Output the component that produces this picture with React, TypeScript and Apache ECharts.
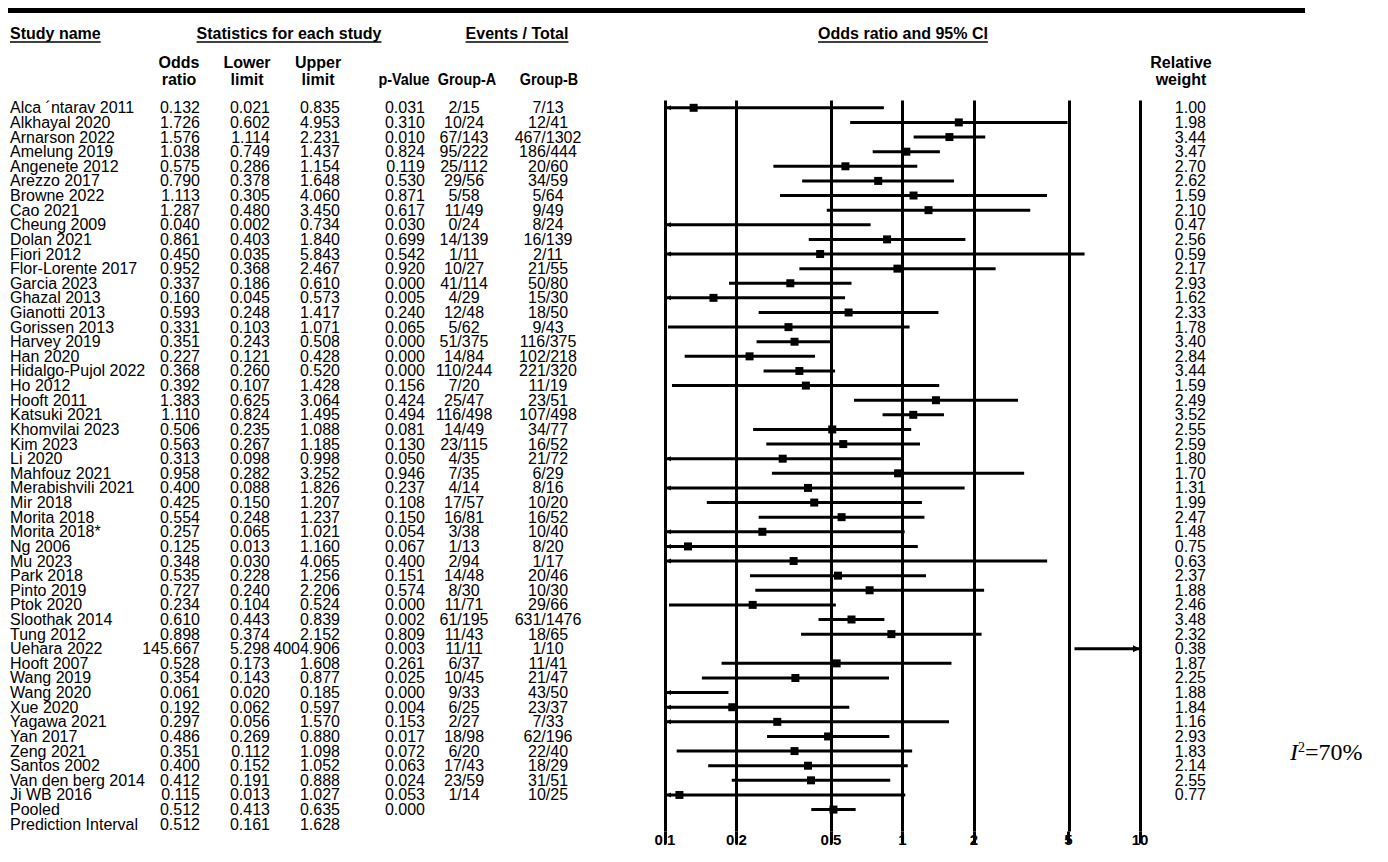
import React, { useEffect, useRef } from "react";
import * as echarts from "echarts";

const studyNames = [
  "Alca ´ntarav 2011", "Alkhayal 2020", "Arnarson 2022", "Amelung 2019", "Angenete 2012",
  "Arezzo 2017", "Browne 2022", "Cao 2021", "Cheung 2009", "Dolan 2021",
  "Fiori 2012", "Flor-Lorente 2017", "Garcia 2023", "Ghazal 2013", "Gianotti 2013",
  "Gorissen 2013", "Harvey 2019", "Han 2020", "Hidalgo-Pujol 2022", "Ho 2012",
  "Hooft 2011", "Katsuki 2021", "Khomvilai 2023", "Kim 2023", "Li 2020",
  "Mahfouz 2021", "Merabishvili 2021", "Mir 2018", "Morita 2018", "Morita 2018*",
  "Ng 2006", "Mu 2023", "Park 2018", "Pinto 2019", "Ptok 2020",
  "Sloothak 2014", "Tung 2012", "Uehara 2022", "Hooft 2007", "Wang 2019",
  "Wang 2020", "Xue 2020", "Yagawa 2021", "Yan 2017", "Zeng 2021",
  "Santos 2002", "Van den berg 2014", "Ji WB 2016", "Pooled", "Prediction Interval",
];

const oddsRatios = [
  0.132, 1.726, 1.576, 1.038, 0.575, 0.79, 1.113, 1.287, 0.04, 0.861,
  0.45, 0.952, 0.337, 0.16, 0.593, 0.331, 0.351, 0.227, 0.368, 0.392,
  1.383, 1.11, 0.506, 0.563, 0.313, 0.958, 0.4, 0.425, 0.554, 0.257,
  0.125, 0.348, 0.535, 0.727, 0.234, 0.61, 0.898, 145.667, 0.528, 0.354,
  0.061, 0.192, 0.297, 0.486, 0.351, 0.4, 0.412, 0.115, 0.512, 0.512,
];

const lowerLimits = [
  0.021, 0.602, 1.114, 0.749, 0.286, 0.378, 0.305, 0.48, 0.002, 0.403,
  0.035, 0.368, 0.186, 0.045, 0.248, 0.103, 0.243, 0.121, 0.26, 0.107,
  0.625, 0.824, 0.235, 0.267, 0.098, 0.282, 0.088, 0.15, 0.248, 0.065,
  0.013, 0.03, 0.228, 0.24, 0.104, 0.443, 0.374, 5.298, 0.173, 0.143,
  0.02, 0.062, 0.056, 0.269, 0.112, 0.152, 0.191, 0.013, 0.413, 0.161,
];

const upperLimits = [
  0.835, 4.953, 2.231, 1.437, 1.154, 1.648, 4.06, 3.45, 0.734, 1.84,
  5.843, 2.467, 0.61, 0.573, 1.417, 1.071, 0.508, 0.428, 0.52, 1.428,
  3.064, 1.495, 1.088, 1.185, 0.998, 3.252, 1.826, 1.207, 1.237, 1.021,
  1.16, 4.065, 1.256, 2.206, 0.524, 0.839, 2.152, 4004.906, 1.608, 0.877,
  0.185, 0.597, 1.57, 0.88, 1.098, 1.052, 0.888, 1.027, 0.635, 1.628,
];

const pValues = [
  "0.031", "0.310", "0.010", "0.824", "0.119", "0.530", "0.871", "0.617", "0.030", "0.699",
  "0.542", "0.920", "0.000", "0.005", "0.240", "0.065", "0.000", "0.000", "0.000", "0.156",
  "0.424", "0.494", "0.081", "0.130", "0.050", "0.946", "0.237", "0.108", "0.150", "0.054",
  "0.067", "0.400", "0.151", "0.574", "0.000", "0.002", "0.809", "0.003", "0.261", "0.025",
  "0.000", "0.004", "0.153", "0.017", "0.072", "0.063", "0.024", "0.053", "0.000", "",
];

const groupA = [
  "2/15", "10/24", "67/143", "95/222", "25/112", "29/56", "5/58", "11/49", "0/24", "14/139",
  "1/11", "10/27", "41/114", "4/29", "12/48", "5/62", "51/375", "14/84", "110/244", "7/20",
  "25/47", "116/498", "14/49", "23/115", "4/35", "7/35", "4/14", "17/57", "16/81", "3/38",
  "1/13", "2/94", "14/48", "8/30", "11/71", "61/195", "11/43", "11/11", "6/37", "10/45",
  "9/33", "6/25", "2/27", "18/98", "6/20", "17/43", "23/59", "1/14", "", "",
];

const groupB = [
  "7/13", "12/41", "467/1302", "186/444", "20/60", "34/59", "5/64", "9/49", "8/24", "16/139",
  "2/11", "21/55", "50/80", "15/30", "18/50", "9/43", "116/375", "102/218", "221/320", "11/19",
  "23/51", "107/498", "34/77", "16/52", "21/72", "6/29", "8/16", "10/20", "16/52", "10/40",
  "8/20", "1/17", "20/46", "10/30", "29/66", "631/1476", "18/65", "1/10", "11/41", "21/47",
  "43/50", "23/37", "7/33", "62/196", "22/40", "18/29", "31/51", "10/25", "", "",
];

const relativeWeights = [
  "1.00", "1.98", "3.44", "3.47", "2.70", "2.62", "1.59", "2.10", "0.47", "2.56",
  "0.59", "2.17", "2.93", "1.62", "2.33", "1.78", "3.40", "2.84", "3.44", "1.59",
  "2.49", "3.52", "2.55", "2.59", "1.80", "1.70", "1.31", "1.99", "2.47", "1.48",
  "0.75", "0.63", "2.37", "1.88", "2.46", "3.48", "2.32", "0.38", "1.87", "2.25",
  "1.88", "1.84", "1.16", "2.93", "1.83", "2.14", "2.55", "0.77",
];

const tickValues = [0.1, 0.2, 0.5, 1, 2, 5, 10];
const tickLabels = ["0.1", "0.2", "0.5", "1", "2", "5", "10"];
const heterogeneity = "70%";

const FONT = "'Liberation Sans', Arial, sans-serif";
const ROW_FONT_SIZE = 16;

function measure(text: string, font: string): number {
  const c = document.createElement("canvas").getContext("2d");
  if (!c) return text.length * 9;
  c.font = font;
  return c.measureText(text).width;
}

export default function App() {
  const ref = useRef<HTMLDivElement>(null);

  useEffect(() => {
    if (!ref.current) return;
    const chart = echarts.init(ref.current, null, { renderer: "svg" });
    const cats = studyNames.map((_, i) => String(i));
    const lg = (v: number) => Math.log10(v);
    const X_MIN = lg(tickValues[0]);
    const X_MAX = lg(tickValues[tickValues.length - 1]);
    const tickPos = tickValues.map(lg);
    const plotRows = relativeWeights.length + 1; // studies + pooled

    const ciData: number[][] = [];
    for (let i = 0; i < plotRows; i++) {
      ciData.push([i, lg(lowerLimits[i]), lg(oddsRatios[i]), lg(upperLimits[i])]);
    }

    const colAxis = (
      offset: number,
      formatter: (i: number) => string,
      align: string,
      position: string = "left"
    ) => ({
      type: "category",
      data: cats,
      inverse: true,
      position,
      offset,
      axisLine: { show: false },
      axisTick: { show: false },
      splitLine: { show: false },
      axisLabel: {
        interval: 0,
        margin: 0,
        align,
        formatter: (v: string) => formatter(parseInt(v, 10)),
        fontFamily: FONT,
        fontSize: ROW_FONT_SIZE,
        color: "#000",
      },
    });

    const boldFont = `bold 16px ${FONT}`;
    const headers = [
      { text: "Study name", x: 10, align: "left" },
      { text: "Statistics for each study", x: 289, align: "center" },
      { text: "Events / Total", x: 517, align: "center" },
      { text: "Odds ratio and 95% CI", x: 903, align: "center" },
    ];
    const headY = 33;
    const graphics: any[] = [
      { type: "rect", shape: { x: 8, y: 8, width: 1297, height: 5 }, style: { fill: "#000" } },
    ];
    headers.forEach((h) => {
      const w = measure(h.text, boldFont);
      const left = h.align === "left" ? h.x : h.x - w / 2;
      graphics.push({
        type: "text",
        x: h.x,
        y: headY,
        style: {
          text: h.text,
          font: boldFont,
          fill: "#000",
          align: h.align,
          verticalAlign: "middle",
        },
      });
      graphics.push({
        type: "line",
        shape: { x1: left, y1: headY + 9, x2: left + w, y2: headY + 9 },
        style: { stroke: "#000", lineWidth: 1.5 },
      });
    });

    const subHeaders = [
      { text: "Odds\nratio", x: 179, two: true, sx: 1 },
      { text: "Lower\nlimit", x: 247, two: true, sx: 1 },
      { text: "Upper\nlimit", x: 318, two: true, sx: 1 },
      { text: "p-Value", x: 404, two: false, sx: 0.9 },
      { text: "Group-A", x: 467, two: false, sx: 0.9 },
      { text: "Group-B", x: 549, two: false, sx: 0.9 },
      { text: "Relative\nweight", x: 1181, two: true, sx: 1 },
    ];
    subHeaders.forEach((s) => {
      graphics.push({
        type: "text",
        x: s.x,
        y: s.two ? 70.5 : 79,
        scaleX: s.sx,
        style: {
          text: s.text,
          font: boldFont,
          lineHeight: 17,
          fill: "#000",
          align: "center",
          verticalAlign: "middle",
        },
      });
    });

    graphics.push({
      type: "text",
      x: 1290,
      y: 752,
      style: {
        text: `{i|I}{s|2}{n|=${heterogeneity}}`,
        verticalAlign: "middle",
        rich: {
          i: { fontFamily: "'Liberation Serif', serif", fontSize: 24, fontStyle: "italic", fill: "#000" },
          s: { fontFamily: "'Liberation Serif', serif", fontSize: 14, verticalAlign: "top", fill: "#000" },
          n: { fontFamily: "'Liberation Serif', serif", fontSize: 24, fill: "#000" },
        },
      },
    });

    const option: any = {
      animation: false,
      backgroundColor: "#fff",
      grid: { left: 665, right: 248, top: 100.5, height: 731, containLabel: false },
      xAxis: {
        type: "value",
        min: X_MIN,
        max: X_MAX,
        axisLine: { show: false },
        splitLine: { show: false },
        axisTick: {
          show: true,
          customValues: tickPos,
          length: 12,
          lineStyle: { color: "#000", width: 3 },
        },
        axisLabel: {
          customValues: tickPos,
          margin: 0,
          fontFamily: FONT,
          fontSize: 15,
          fontWeight: "bold",
          color: "#000",
          formatter: (v: number) => {
            let best = 0;
            tickPos.forEach((p, i) => {
              if (Math.abs(p - v) < Math.abs(tickPos[best] - v)) best = i;
            });
            return tickLabels[best];
          },
        },
      },
      yAxis: [
        colAxis(655, (i) => studyNames[i], "left"),
        colAxis(465, (i) => oddsRatios[i].toFixed(3), "right"),
        colAxis(395, (i) => lowerLimits[i].toFixed(3), "right"),
        colAxis(325, (i) => upperLimits[i].toFixed(3), "right"),
        colAxis(240, (i) => pValues[i], "right"),
        colAxis(201, (i) => groupA[i], "center"),
        colAxis(117, (i) => groupB[i], "center"),
        colAxis(66, (i) => relativeWeights[i] ?? "", "right", "right"),
      ],
      graphic: graphics,
      series: [
        {
          type: "line",
          data: [],
          silent: true,
          markLine: {
            silent: true,
            symbol: ["none", "none"],
            label: { show: false },
            lineStyle: { color: "#000", width: 3, type: "solid" },
            data: tickPos.map((p) => ({ xAxis: p })),
          },
        },
        {
          type: "custom",
          clip: false,
          data: ciData,
          encode: { x: [1, 2, 3], y: 0 },
          renderItem: (_params: any, api: any) => {
            const row = api.value(0);
            const lo = api.value(1);
            const mid = api.value(2);
            const hi = api.value(3);
            const p1 = api.coord([Math.max(lo, X_MIN), row]);
            const p2 = api.coord([Math.min(hi, X_MAX), row]);
            const children: any[] = [
              {
                type: "line",
                shape: { x1: p1[0], y1: p1[1], x2: p2[0], y2: p2[1] },
                style: { stroke: "#000", lineWidth: 3 },
              },
            ];
            if (mid >= X_MIN && mid <= X_MAX) {
              const c = api.coord([mid, row]);
              children.push({
                type: "rect",
                shape: { x: c[0] - 4, y: c[1] - 4, width: 8, height: 8 },
                style: { fill: "#000" },
              });
            }
            if (lo < X_MIN) {
              children.push({
                type: "polygon",
                shape: { points: [[p1[0] + 1, p1[1]], [p1[0] + 6, p1[1] - 2.5], [p1[0] + 6, p1[1] + 2.5]] },
                style: { fill: "#000" },
              });
            }
            if (hi > X_MAX) {
              children.push({
                type: "polygon",
                shape: { points: [[p2[0], p2[1]], [p2[0] - 7, p2[1] - 3.5], [p2[0] - 7, p2[1] + 3.5]] },
                style: { fill: "#000" },
              });
            }
            return { type: "group", children };
          },
        },
      ],
    };

    chart.setOption(option);
    return () => chart.dispose();
  }, []);

  return (
    <div
      ref={ref}
      style={{ position: "absolute", left: 0, top: 0, width: 1388, height: 862, background: "#fff" }}
    />
  );
}
